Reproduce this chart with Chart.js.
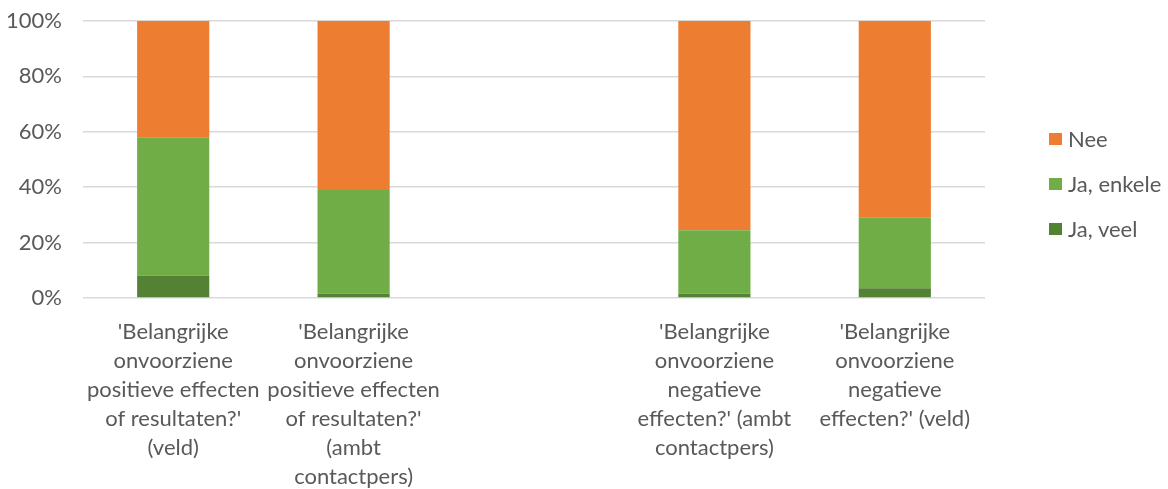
<!DOCTYPE html>
<html lang="nl">
<head>
  <meta charset="UTF-8">
  <title>Onvoorziene effecten</title>
  <script src="https://cdn.jsdelivr.net/npm/chart.js"></script>
  <style>
    html, body { margin: 0; padding: 0; background: #fff; }
    .wrap { position: relative; width: 1168px; height: 489px; }
    /* legend kept in html so it can sit where the original has it */
    .legend {
      position: absolute; left: 1049px; top: 124px;
      font-family: Lato, "Liberation Sans", sans-serif; font-size: 22px; color: #595959;
    }
    .legend div { display: flex; align-items: center; height: 29px; margin-bottom: 16px; }
    .legend span.box { width: 13px; height: 12px; margin-right: 6px; }
  </style>
</head>
<body>
  <div class="wrap">
    <canvas id="chart" width="1168" height="489"></canvas>
    <div class="legend" id="legend"></div>
  </div>

  <script>
    // categories (the middle one is an empty spacer column)
    const categories = [
      ["'Belangrijke", "onvoorziene", "positieve effecten", "of resultaten?'", "(veld)"],
      ["'Belangrijke", "onvoorziene", "positieve effecten", "of resultaten?'", "(ambt", "contactpers)"],
      "",
      ["'Belangrijke", "onvoorziene", "negatieve", "effecten?' (ambt", "contactpers)"],
      ["'Belangrijke", "onvoorziene", "negatieve", "effecten?' (veld)"]
    ];

    // shares in %
    const jaVeel   = [8, 1.5, null, 1.5, 3.5];
    const jaEnkele = [50, 37.5, null, 23, 25.5];
    const nee      = [42, 61, null, 75.5, 71];

    const yTicks = [0, 20, 40, 60, 80, 100];

    const series = [
      { label: 'Ja, veel', data: jaVeel, color: '#548235' },
      { label: 'Ja, enkele', data: jaEnkele, color: '#70AD47' },
      { label: 'Nee', data: nee, color: '#ED7D31' }
    ];

    const font = { family: 'Lato, "Liberation Sans", sans-serif', size: 22 };

    const ctx = document.getElementById('chart').getContext('2d');
    new Chart(ctx, {
      type: 'bar',
      data: {
        labels: categories,
        datasets: series.map(s => ({
          label: s.label,
          data: s.data,
          backgroundColor: s.color,
          categoryPercentage: 1,
          barPercentage: 0.4
        }))
      },
      options: {
        responsive: false,
        animation: false,
        layout: { padding: { left: 0, right: 183, top: 21, bottom: 0 } },
        plugins: {
          legend: { display: false },
          tooltip: { enabled: false }
        },
        scales: {
          x: {
            stacked: true,
            grid: { display: false, drawTicks: false },
            border: { display: false },
            afterFit: axis => { axis.height = 191; },
            ticks: {
              color: '#595959',
              font: { ...font, lineHeight: 1.32 },
              padding: 19,
              maxRotation: 0,
              autoSkip: false
            }
          },
          y: {
            stacked: true,
            min: 0,
            max: 100,
            afterBuildTicks: axis => { axis.ticks = yTicks.map(v => ({ value: v })); },
            afterFit: axis => {
              axis.width = 83;
              axis.paddingTop = 0;
              axis.paddingBottom = 0;
            },
            grid: { color: '#d9d9d9', lineWidth: 1.5, drawTicks: false },
            border: { display: false },
            ticks: {
              color: '#595959',
              font: font,
              padding: 21,
              callback: v => v + '%'
            }
          }
        }
      }
    });

    // legend, top entry first like the original
    const legend = document.getElementById('legend');
    series.slice().reverse().forEach(s => {
      const row = document.createElement('div');
      row.innerHTML = '<span class="box" style="background:' + s.color + '"></span>' + s.label;
      legend.appendChild(row);
    });
  </script>
</body>
</html>
